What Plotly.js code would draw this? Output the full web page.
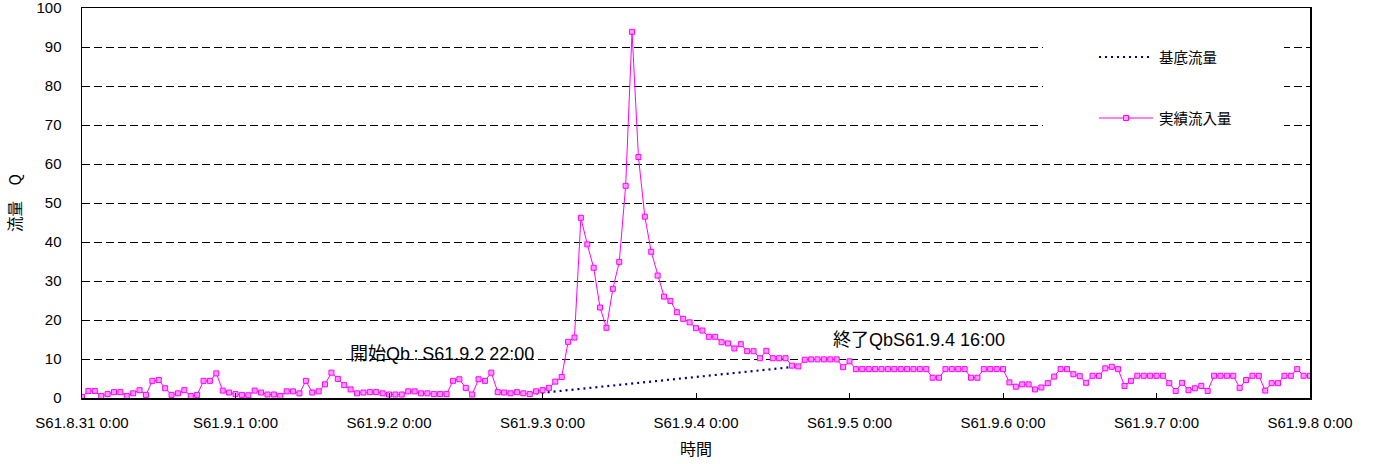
<!DOCTYPE html>
<html>
<head>
<meta charset="utf-8">
<script src="https://cdn.plot.ly/plotly-3.0.1.min.js"></script>
<style>html,body{margin:0;padding:0;background:#fff;}#chart{width:1374px;height:464px;}</style>
</head>
<body>
<div id="chart"></div>
<script>
// Hours since S61.8.31 0:00 (hourly data)
const dayTickHours = [0, 24, 48, 72, 96, 120, 144, 168, 192];
const dayTickLabels = ["S61.8.31 0:00", "S61.9.1 0:00", "S61.9.2 0:00", "S61.9.3 0:00", "S61.9.4 0:00",
  "S61.9.5 0:00", "S61.9.6 0:00", "S61.9.7 0:00", "S61.9.8 0:00"];

// 実績流入量 (hourly, index 0 = S61.8.31 0:00)
const inflow = [
  0.3, 1.8, 1.8, 0.5, 1.0, 1.5, 1.5, 0.5, 1.2, 2.0, 0.8, 4.4, 4.6, 2.5, 0.8, 1.2, 2.0, 0.5, 0.8, 4.4,
  4.4, 6.3, 1.9, 1.4, 1.0, 0.8, 0.7, 1.9, 1.4, 0.9, 0.9, 0.5, 1.7, 1.7, 1.2, 4.4, 1.4, 1.7, 3.5, 6.5,
  4.9, 3.3, 2.2, 1.2, 1.4, 1.5, 1.5, 1.2, 0.9, 0.9, 0.9, 1.7, 1.7, 1.2, 1.2, 1.0, 1.0, 1.0, 4.4, 4.8,
  2.6, 0.9, 4.8, 4.4, 6.5, 1.5, 1.4, 1.2, 1.5, 1.2, 1.0, 1.7, 2.0, 2.6, 4.2, 5.4, 14.4, 15.5, 46.2, 39.4,
  33.4, 23.2, 18.0, 28.0, 34.9, 54.4, 93.9, 61.8, 46.5, 37.5, 31.4, 26.0, 24.9, 22.0, 20.3, 19.4, 17.9, 17.3, 15.7, 15.7,
  14.3, 14.0, 12.7, 13.8, 12.0, 12.0, 10.2, 12.1, 10.2, 10.2, 10.2, 8.3, 8.1, 9.8, 9.9, 9.9, 9.9, 9.9, 9.9, 7.9,
  9.4, 7.4, 7.4, 7.4, 7.4, 7.4, 7.4, 7.4, 7.4, 7.4, 7.4, 7.4, 7.4, 5.2, 5.2, 7.4, 7.4, 7.4, 7.4, 5.2,
  5.2, 7.4, 7.4, 7.4, 7.4, 4.0, 2.9, 3.5, 3.5, 2.2, 2.7, 3.8, 5.5, 7.4, 7.4, 6.1, 5.6, 3.9, 5.7, 5.7,
  7.6, 8.0, 7.4, 3.1, 4.4, 5.7, 5.7, 5.7, 5.7, 5.7, 3.8, 1.8, 3.9, 2.0, 2.5, 3.1, 1.8, 5.7, 5.7, 5.7,
  5.7, 2.6, 4.6, 5.7, 5.7, 1.9, 3.8, 3.8, 5.7, 5.7, 7.4, 5.7, 5.7
];

// 基底流量: straight line from 開始 (S61.9.2 22:00) to 終了 (S61.9.4 16:00)
const baseHours = [70, 112];
const baseFlow = [1.0, 8.1];

const inflowHours = [];
for (let i = 0; i < inflow.length; i++) inflowHours.push(i);

const FONT = "'Liberation Sans', Arial, 'Noto Sans CJK JP', sans-serif";
const JFONT = "'Noto Sans CJK JP', 'Liberation Sans', sans-serif";

const traces = [
  {
    x: baseHours, y: baseFlow, type: 'scatter', mode: 'lines', name: '基底流量',
    line: {color: '#000080', width: 2.2, dash: '2px,4px'}, showlegend: false
  },
  {
    x: inflowHours, y: inflow, type: 'scatter', mode: 'lines+markers', name: '実績流入量',
    line: {color: '#FF00FF', width: 1},
    marker: {symbol: 'square', size: 5, color: '#FF99FF', line: {color: '#FF00FF', width: 1}},
    showlegend: false
  }
];

// helper: pixel -> paper coords for legend drawing
const L = 82, R = 1310, T = 8, B = 398;
const px = v => (v - L) / (R - L);
const py = v => (B - v) / (B - T);

const layout = {
  width: 1374, height: 464,
  margin: {l: 82, r: 64, t: 8, b: 66, pad: 0},
  paper_bgcolor: '#fff', plot_bgcolor: '#fff',
  font: {family: FONT, size: 15, color: '#000'},
  showlegend: false,
  xaxis: {
    range: [0, 192], tickmode: 'array', tickvals: dayTickHours, ticktext: dayTickLabels,
    ticks: 'inside', ticklen: 5, tickcolor: '#000', tickwidth: 1,
    showline: true, linecolor: '#000', linewidth: 1.5, mirror: true,
    showgrid: false, zeroline: false, ticklabelstandoff: 10, ticklabeloverflow: 'allow',
    tickfont: {family: FONT, size: 15},
    title: {text: '時間', font: {family: JFONT, size: 16}, standoff: 14}
  },
  yaxis: {
    range: [0, 100], dtick: 10, tick0: 0, ticks: '',
    showline: true, linecolor: '#000', linewidth: 1.5, mirror: true,
    showgrid: true, gridcolor: '#000', gridwidth: 1, griddash: '8px,4px',
    zeroline: false, ticklabelstandoff: 16, ticklabeloverflow: 'allow',
    tickfont: {family: FONT, size: 15},
    title: {text: '流量　Q', font: {family: JFONT, size: 15.5}, standoff: 11}
  },
  shapes: [
    {type: 'rect', xref: 'paper', yref: 'paper', x0: px(1043), x1: px(1284), y0: py(140), y1: py(20),
     fillcolor: '#fff', line: {width: 0}, layer: 'above'},
    {type: 'line', xref: 'paper', yref: 'paper', x0: px(1099), x1: px(1153), y0: py(57), y1: py(57),
     line: {color: '#000080', width: 2.2, dash: '2px,4px'}, layer: 'above'},
    {type: 'line', xref: 'paper', yref: 'paper', x0: px(1099), x1: px(1153), y0: py(118), y1: py(118),
     line: {color: '#FF00FF', width: 1}, layer: 'above'},
    {type: 'rect', xref: 'paper', yref: 'paper', x0: px(1123.5), x1: px(1128.5), y0: py(120.5), y1: py(115.5),
     fillcolor: '#FF99FF', line: {color: '#FF00FF', width: 1}, layer: 'above'}
  ],
  annotations: [
    {xref: 'paper', yref: 'paper', x: px(1157), y: py(56), xanchor: 'left', yanchor: 'middle',
     text: '基底流量', showarrow: false, font: {family: JFONT, size: 14.5, color: '#000'}},
    {xref: 'paper', yref: 'paper', x: px(1157), y: py(117), xanchor: 'left', yanchor: 'middle',
     text: '実績流入量', showarrow: false, font: {family: JFONT, size: 14.5, color: '#000'}},
    {xref: 'paper', yref: 'paper', x: px(348), y: py(354), xanchor: 'left', yanchor: 'middle',
     text: '開始Qb\u2009:\u2009S61.9.2 22:00', showarrow: false, font: {family: FONT, size: 18, color: '#000'}},
    {xref: 'paper', yref: 'paper', x: px(831), y: py(340), xanchor: 'left', yanchor: 'middle',
     text: '終了QbS61.9.4 16:00', showarrow: false, font: {family: FONT, size: 18, color: '#000'}}
  ]
};

Plotly.newPlot('chart', traces, layout, {staticPlot: true, displayModeBar: false});
</script>
</body>
</html>
